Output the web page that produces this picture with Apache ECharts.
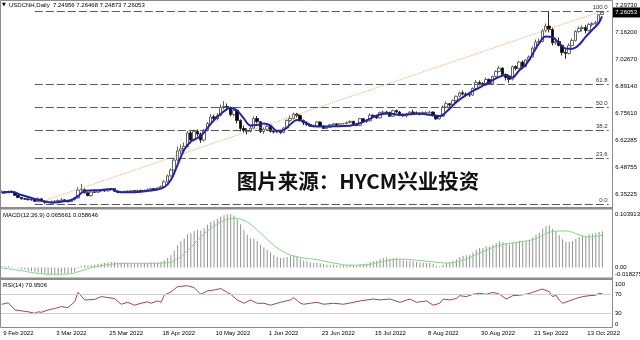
<!DOCTYPE html>
<html><head><meta charset="utf-8">
<script src="https://cdn.jsdelivr.net/npm/echarts@6/dist/echarts.min.js"></script>
<style>html,body{margin:0;padding:0;background:#fff}#c{width:640px;height:340px}</style>
</head><body><div id="c"></div>
<script>
// ---------- DATA ----------
const symbolTitle = 'USDCNH,Daily  7.24956 7.26468 7.24873 7.26053';
const macdTitle = 'MACD(12,26,9) 0.065661 0.058646';
const rsiTitle = 'RSI(14) 70.9506';
const watermark = '图片来源：HYCM兴业投资';
const firstDate = [2022, 1, 9];   // 9 Feb 2022, daily (weekday) bars
const barCount = 182;
const emptySlots = 2;             // blank space right of the last bar

const opens = [6.3620,6.3640,6.3590,6.3640,6.3610,6.3460,6.3350,6.3280,6.3270,6.3240,
6.3230,6.3160,6.3280,6.3170,6.3110,6.3150,6.3150,6.3170,6.3200,6.3230,
6.3190,6.3140,6.3240,6.3320,6.3720,6.3740,6.3580,6.3440,6.3620,6.3610,
6.3680,6.3690,6.3680,6.3740,6.3790,6.3660,6.3610,6.3600,6.3660,6.3640,
6.3690,6.3670,6.3700,6.3680,6.3700,6.3740,6.3790,6.3730,6.3830,6.3890,
6.4130,6.4430,6.4720,6.5220,6.5680,6.5780,6.5900,6.6580,6.6220,6.6650,
6.6520,6.6220,6.6700,6.7050,6.7380,6.7290,6.7450,6.7860,6.7900,6.7850,
6.7500,6.7700,6.7200,6.6800,6.6700,6.6650,6.6810,6.7300,6.7140,6.6650,
6.6760,6.6900,6.6650,6.6620,6.6650,6.6600,6.6820,6.7200,6.7300,6.7520,
6.7450,6.7190,6.7070,6.7000,6.6920,6.6920,6.7120,6.6920,6.6800,6.6860,
6.6990,6.7030,6.6960,6.7040,6.7040,6.7100,6.7160,6.7020,6.6950,6.7290,
6.7130,6.7180,6.7460,6.7410,6.7330,6.7590,6.7620,6.7600,6.7410,6.7690,
6.7620,6.7460,6.7430,6.7510,6.7620,6.7580,6.7560,6.7510,6.7590,6.7600,
6.7620,6.7450,6.7280,6.7410,6.7870,6.8040,6.7970,6.8200,6.8410,6.8580,
6.8520,6.8490,6.8470,6.8800,6.9100,6.9050,6.8970,6.9250,6.9050,6.9400,
6.9650,6.9820,6.9500,6.9350,6.9260,6.9890,6.9810,7.0120,6.9890,7.0220,
7.0370,7.0810,7.1120,7.1150,7.1690,7.1920,7.1750,7.1080,7.1150,7.0950,
7.0600,7.0550,7.0950,7.1200,7.1650,7.1800,7.1850,7.1700,7.2000,7.2040,
7.2100,7.24956];
const highs = [6.3700,6.3680,6.3690,6.3700,6.3650,6.3500,6.3380,6.3330,6.3300,6.3320,
6.3260,6.3350,6.3300,6.3220,6.3190,6.3200,6.3220,6.3250,6.3320,6.3260,
6.3230,6.3290,6.3380,6.3860,6.4030,6.3800,6.3620,6.3660,6.3700,6.3720,
6.3740,6.3750,6.3790,6.3830,6.3810,6.3700,6.3680,6.3700,6.3690,6.3730,
6.3730,6.3750,6.3740,6.3760,6.3800,6.3830,6.3820,6.3860,6.3950,6.4220,
6.4500,6.4800,6.5300,6.5900,6.6000,6.6100,6.6680,6.6730,6.6750,6.6750,
6.6600,6.6780,6.7120,6.7530,6.7490,6.7560,6.8000,6.8170,6.8050,6.7900,
6.7850,6.7780,6.7260,6.6950,6.6800,6.6920,6.7400,6.7420,6.7180,6.6850,
6.6990,6.6950,6.6720,6.6720,6.6700,6.6880,6.7250,6.7450,6.7600,6.7580,
6.7500,6.7250,6.7150,6.7050,6.7000,6.7180,6.7150,6.6970,6.6900,6.7020,
6.7080,6.7060,6.7070,6.7080,6.7150,6.7200,6.7180,6.7050,6.7330,6.7320,
6.7250,6.7560,6.7500,6.7450,6.7650,6.7700,6.7680,6.7640,6.7740,6.7750,
6.7680,6.7550,6.7580,6.7660,6.7740,6.7650,6.7600,6.7650,6.7660,6.7680,
6.7650,6.7480,6.7460,6.7950,6.8150,6.8080,6.8250,6.8450,6.8650,6.8700,
6.8600,6.8560,6.8850,6.9220,6.9200,6.9120,6.9350,6.9300,6.9450,6.9700,
6.9930,6.9850,6.9550,6.9400,6.9950,6.9960,7.0180,7.0200,7.0280,7.0450,
7.0900,7.1250,7.1300,7.1770,7.2050,7.2673,7.1850,7.1320,7.1350,7.1000,
7.0750,7.1050,7.1300,7.1720,7.1900,7.1950,7.1980,7.2080,7.2120,7.2180,
7.2530,7.26468];
const lows = [6.3570,6.3540,6.3560,6.3580,6.3440,6.3310,6.3240,6.3230,6.3200,6.3190,
6.3130,6.3120,6.3140,6.3030,6.3080,6.3100,6.3110,6.3130,6.3150,6.3130,
6.3100,6.3120,6.3200,6.3300,6.3650,6.3560,6.3420,6.3400,6.3570,6.3580,
6.3630,6.3640,6.3650,6.3700,6.3620,6.3560,6.3560,6.3580,6.3600,6.3610,
6.3630,6.3640,6.3650,6.3650,6.3670,6.3700,6.3690,6.3710,6.3800,6.3860,
6.4090,6.4380,6.4680,6.5150,6.5500,6.5650,6.5850,6.6050,6.6150,6.6400,
6.6080,6.6150,6.6650,6.7000,6.7150,6.7200,6.7400,6.7750,6.7680,6.7400,
6.7400,6.7050,6.6650,6.6580,6.6500,6.6600,6.6780,6.7050,6.6570,6.6530,
6.6680,6.6600,6.6550,6.6560,6.6520,6.6560,6.6780,6.7120,6.7250,6.7350,
6.7150,6.6960,6.6930,6.6880,6.6850,6.6880,6.6880,6.6780,6.6760,6.6820,
6.6950,6.6920,6.6920,6.7000,6.7000,6.7050,6.6990,6.6920,6.6930,6.7090,
6.7080,6.7150,6.7350,6.7280,6.7300,6.7550,6.7520,6.7380,6.7380,6.7580,
6.7420,6.7400,6.7350,6.7460,6.7550,6.7500,6.7450,6.7480,6.7530,6.7550,
6.7400,6.7230,6.7240,6.7380,6.7830,6.7880,6.7920,6.8150,6.8360,6.8450,
6.8400,6.8380,6.8420,6.8750,6.8950,6.8900,6.8930,6.9000,6.9000,6.9350,
6.9600,6.9450,6.9200,6.9080,6.9200,6.9700,6.9770,6.9800,6.9850,7.0150,
7.0330,7.0750,7.0980,7.1100,7.1600,7.1600,7.0950,7.0980,7.0900,7.0450,
7.0280,7.0500,7.0900,7.1150,7.1580,7.1650,7.1550,7.1650,7.1900,7.1980,
7.2050,7.24873];
const closes = [6.3640,6.3590,6.3640,6.3610,6.3460,6.3350,6.3280,6.3270,6.3240,6.3230,
6.3160,6.3280,6.3170,6.3110,6.3150,6.3150,6.3170,6.3200,6.3230,6.3190,
6.3140,6.3240,6.3320,6.3720,6.3740,6.3580,6.3440,6.3620,6.3610,6.3680,
6.3690,6.3680,6.3740,6.3790,6.3660,6.3610,6.3600,6.3660,6.3640,6.3690,
6.3670,6.3700,6.3680,6.3700,6.3740,6.3790,6.3730,6.3830,6.3890,6.4130,
6.4430,6.4720,6.5220,6.5680,6.5780,6.5900,6.6580,6.6220,6.6650,6.6520,
6.6220,6.6700,6.7050,6.7380,6.7290,6.7450,6.7860,6.7900,6.7850,6.7500,
6.7700,6.7200,6.6800,6.6700,6.6650,6.6810,6.7300,6.7140,6.6650,6.6760,
6.6900,6.6650,6.6620,6.6650,6.6600,6.6820,6.7200,6.7300,6.7520,6.7450,
6.7190,6.7070,6.7000,6.6920,6.6920,6.7120,6.6920,6.6800,6.6860,6.6990,
6.7030,6.6960,6.7040,6.7040,6.7100,6.7160,6.7020,6.6950,6.7290,6.7130,
6.7180,6.7460,6.7410,6.7330,6.7590,6.7620,6.7600,6.7410,6.7690,6.7620,
6.7460,6.7430,6.7510,6.7620,6.7580,6.7560,6.7510,6.7590,6.7600,6.7620,
6.7450,6.7280,6.7410,6.7870,6.8040,6.7970,6.8200,6.8410,6.8580,6.8520,
6.8490,6.8470,6.8800,6.9100,6.9050,6.8970,6.9250,6.9050,6.9400,6.9650,
6.9820,6.9500,6.9350,6.9260,6.9890,6.9810,7.0120,6.9890,7.0220,7.0370,
7.0810,7.1120,7.1150,7.1690,7.1920,7.1750,7.1080,7.1150,7.0950,7.0600,
7.0550,7.0950,7.1200,7.1650,7.1800,7.1850,7.1700,7.2000,7.2040,7.2100,
7.2490,7.26053];

// moving average [bar index, price]
const maPoints = [[0,6.359],[3,6.364],[6,6.347],[9,6.332],[12,6.319],[15,6.309],[18,6.314],[21,6.322],
[23,6.342],[25,6.367],[30,6.372],[33,6.377],[35,6.364],[38,6.361],[42,6.364],[46,6.372],[49,6.386],
[51,6.422],[53,6.497],[55,6.572],[57,6.614],[60,6.642],[63,6.702],[66,6.752],[69,6.782],[71,6.770],
[73,6.730],[75,6.695],[77,6.697],[79,6.705],[81,6.695],[83,6.668],[85,6.672],[87,6.700],[89,6.722],
[91,6.716],[93,6.695],[96,6.690],[100,6.691],[105,6.694],[108,6.706],[111,6.728],[114,6.750],
[117,6.755],[120,6.748],[123,6.751],[126,6.755],[129,6.748],[132,6.742],[134,6.762],[136,6.795],
[138,6.824],[141,6.857],[144,6.884],[147,6.912],[150,6.938],[152,6.947],[154,6.935],[156,6.970],
[158,6.998],[160,7.050],[162,7.105],[164,7.140],[166,7.137],[168,7.108],[170,7.080],[172,7.078],
[174,7.097],[176,7.137],[178,7.172],[180,7.207],[181,7.240]];

// Fibonacci retracement
const fibLabels = ['0.0','23.6','38.2','50.0','61.8','100.0'];
const fibPrices = [6.3023,6.5300,6.6709,6.7848,6.8987,7.2673];
const fibFromBar = 10, fibToBar = 183;
const fibTrend = [[10,6.3023],[181,7.2673]];

const priceTicks = [7.29730,7.16200,7.02670,6.89140,6.75610,6.62285,6.48755,6.35225];
const lastPrice = 7.26053;

// MACD
const macdHist = [0.002,0.002,0.002,0.001,0.000,-0.001,-0.003,-0.004,-0.006,-0.007,
-0.008,-0.009,-0.010,-0.011,-0.012,-0.012,-0.012,-0.012,-0.011,-0.011,
-0.011,-0.010,-0.008,-0.002,0.002,0.004,0.003,0.004,0.005,0.006,
0.007,0.008,0.009,0.010,0.010,0.009,0.009,0.009,0.008,0.008,
0.008,0.008,0.008,0.008,0.008,0.009,0.008,0.009,0.010,0.013,
0.017,0.022,0.030,0.040,0.047,0.053,0.060,0.062,0.066,0.068,
0.067,0.071,0.077,0.082,0.085,0.088,0.092,0.095,0.096,0.096,
0.094,0.087,0.078,0.068,0.059,0.053,0.052,0.048,0.041,0.036,
0.032,0.027,0.022,0.019,0.017,0.017,0.019,0.021,0.022,0.020,
0.016,0.013,0.011,0.009,0.008,0.008,0.007,0.006,0.005,0.005,
0.005,0.004,0.004,0.004,0.004,0.005,0.004,0.003,0.006,0.006,
0.007,0.010,0.011,0.012,0.015,0.017,0.018,0.016,0.017,0.017,
0.015,0.013,0.012,0.012,0.011,0.010,0.009,0.009,0.008,0.008,
0.006,0.003,0.002,0.005,0.008,0.009,0.012,0.015,0.019,0.021,
0.022,0.023,0.027,0.032,0.035,0.035,0.038,0.038,0.041,0.044,
0.047,0.046,0.044,0.042,0.045,0.046,0.048,0.047,0.048,0.050,
0.054,0.059,0.063,0.070,0.075,0.076,0.070,0.065,0.058,0.051,
0.046,0.046,0.048,0.052,0.055,0.057,0.057,0.060,0.061,0.062,
0.064,0.065661];
const macdSignal = [[0,-0.001],[5,-0.005],[10,-0.010],[15,-0.0125],[20,-0.012],[24,-0.006],[28,0.001],
[32,0.005],[36,0.007],[40,0.0075],[45,0.0075],[49,0.008],[52,0.012],[56,0.030],[60,0.055],[64,0.075],
[67,0.085],[70,0.089],[74,0.082],[78,0.062],[82,0.040],[86,0.025],[90,0.018],[95,0.014],[100,0.008],
[105,0.004],[110,0.005],[115,0.011],[120,0.015],[125,0.013],[130,0.010],[134,0.008],[138,0.011],
[144,0.026],[150,0.040],[156,0.046],[161,0.052],[166,0.065],[170,0.066],[174,0.059],[177,0.055],
[181,0.058646]];
const macdTicks = [-0.018275, 0, 0.103913];
const macdTickText = ['-0.018275', '0.00', '0.103913'];

// RSI
const rsiPoints = [[0,48.8],[2,52],[4,37],[6,35],[8,33],[10,30],[11,33],[12,32],[14,37],[16,40],[18,44],
[20,42],[22,54],[23,74],[25,58],[28,59],[30,65],[32,63],[34,61],[36,49],[38,53],[40,47],[42,51],[44,54],
[45,51],[47,56],[48,53],[49,68],[51,75],[53,86],[56,88],[58,84],[60,70],[62,77],[64,79],[66,82],[68,74],
[69,70],[71,58],[73,51],[75,58],[77,51],[79,51],[81,47],[84,53],[87,58],[88,63],[90,51],[91,49],[93,51],
[95,53],[97,49],[100,51],[103,49],[106,53],[108,56],[110,58],[112,60],[114,58],[117,60],[120,53],[123,60],
[125,53],[128,56],[130,47],[132,51],[133,60],[135,58],[137,61],[138,67],[140,65],[142,70],[144,72],[146,70],
[148,74],[150,70],[152,60],[154,67],[156,68],[158,70],[160,74],[162,79],[163,81],[165,75],[166,65],[167,68],
[168,58],[169,51],[171,56],[173,61],[175,65],[177,67],[179,68],[180,72],[181,70.9506]];
const rsiTicks = [0, 30, 70, 100];
const rsiTickText = ['0', '30', '70', '100'];
const rsiLevels = [70, 30];

// ---------- BUILD ----------
const MONTHS = ['Jan','Feb','Mar','Apr','May','Jun','Jul','Aug','Sep','Oct','Nov','Dec'];
const cats = [];
(function(){
  const d = new Date(Date.UTC(firstDate[0], firstDate[1], firstDate[2]));
  while (cats.length < barCount + emptySlots) {
    const w = d.getUTCDay();
    if (w !== 0 && w !== 6) cats.push(d.getUTCDate() + ' ' + MONTHS[d.getUTCMonth()] + ' ' + d.getUTCFullYear());
    d.setUTCDate(d.getUTCDate() + 1);
  }
})();
const candles = closes.map((c, i) => [opens[i], c, lows[i], highs[i]]);

const F = '"Liberation Sans", Arial, sans-serif';
const GL = -2.67, GR = 29.3;
const grids = [
  {left: GL, right: GR, top: 1, height: 206},
  {left: GL, right: GR, top: 210, height: 67.5},
  {left: GL, right: GR, top: 280, height: 47.5}
];
function xAx(g, showLabel) {
  return {type:'category', gridIndex:g, data:cats, boundaryGap:true,
    axisLine:{show:false}, axisTick:{show:false}, splitLine:{show:false},
    axisLabel: showLabel ? {show:true, interval:15, fontSize:6, fontFamily:F, color:'#000',
      align:'left', margin:2.5, padding:[0,0,0,1.5]} : {show:false}};
}
function yAx(g, min, max, ticks, fmt, lab) {
  return {type:'value', gridIndex:g, position:'right', min:min, max:max,
    splitLine:{show:false}, axisLine:{show:false}, axisTick:{show:false},
    axisLabel:Object.assign({customValues:ticks, formatter:fmt, fontSize:6, fontFamily:F,
      color:'#000', margin:5, align:'left'}, lab||{})};
}

const series = [];
series.push({type:'candlestick', xAxisIndex:0, yAxisIndex:0, data:candles, barWidth:3,
  itemStyle:{color:'#ffffff', color0:'#000000', borderColor:'#666666', borderColor0:'#2a2a2a', borderWidth:1},
  markLine:{silent:true, symbol:'none', animation:false,
    data:[{yAxis:lastPrice}],
    lineStyle:{color:'rgba(0,0,0,0)', width:1},
    label:{show:true, position:'end', formatter:lastPrice.toFixed(5), backgroundColor:'#000', color:'#fff',
      fontSize:6, fontFamily:F, padding:[3,3,1,3], distance:2}}
});
series.push({type:'line', xAxisIndex:0, yAxisIndex:0, data:[], silent:true,
  markLine:{silent:true, symbol:'none', animation:false,
    lineStyle:{color:'#5a5a5a', type:[8,3], width:1},
    label:{show:true, position:'insideEndTop', fontSize:6, fontFamily:F, color:'#333', distance:[1,1]},
    data: fibPrices.map((p, k) => [{coord:[fibFromBar, p], label:{formatter:fibLabels[k]}}, {coord:[fibToBar, p]}])}
});
series.push({type:'line', xAxisIndex:0, yAxisIndex:0, data:fibTrend, symbol:'none', silent:true,
  lineStyle:{color:'#f2a66a', type:'dotted', width:1}});
series.push({type:'line', xAxisIndex:0, yAxisIndex:0, data:maPoints, symbol:'none', smooth:0.35, silent:true,
  lineStyle:{color:'#2222b0', width:2}, z:5});
series.push({type:'bar', xAxisIndex:1, yAxisIndex:1, data:macdHist, barWidth:1, silent:true,
  itemStyle:{color:'#929292'}});
series.push({type:'line', xAxisIndex:1, yAxisIndex:1, data:macdSignal, symbol:'none', smooth:0.4, silent:true,
  lineStyle:{color:'#7fd87f', width:1}});
series.push({type:'line', xAxisIndex:2, yAxisIndex:2, data:rsiPoints, symbol:'none', silent:true,
  lineStyle:{color:'#a04848', width:1},
  markLine:{silent:true, symbol:'none', animation:false, label:{show:false},
    lineStyle:{color:'#cfcfcf', type:'solid', width:1},
    data: rsiLevels.map(v => ({yAxis:v}))}
});

const baseGraphic = [
  {type:'rect', silent:true, z:50, shape:{x:0.5, y:0.5, width:612, height:327}, style:{fill:'none', stroke:'#8c8c8c', lineWidth:1}},
  {type:'rect', silent:true, z:50, shape:{x:0, y:207, width:613, height:2.5}, style:{fill:'#8c8c8c'}},
  {type:'rect', silent:true, z:50, shape:{x:0, y:277.5, width:613, height:2.5}, style:{fill:'#8c8c8c'}},
  {type:'text', silent:true, z:60, left:2, top:2.5, style:{text:'▼', font:'5px "DejaVu Sans"', fill:'#000'}},
  {type:'text', silent:true, z:60, left:9, top:2, style:{text:symbolTitle, font:'6px ' + F, fill:'#000'}},
  {type:'text', silent:true, z:60, left:3, top:212, style:{text:macdTitle, font:'6px ' + F, fill:'#000'}},
  {type:'text', silent:true, z:60, left:3, top:282, style:{text:rsiTitle, font:'6px ' + F, fill:'#000'}},
  {type:'text', silent:true, z:60, x:358, y:181, style:{text:watermark, font:'bold 20.5px "Noto Sans CJK SC"', fill:'#111', align:'center', verticalAlign:'middle'}}
];

const option = {
  animation:false,
  backgroundColor:'#fff',
  grid: grids,
  xAxis: [xAx(0,false), xAx(1,false), xAx(2,true)],
  yAxis: [
    yAx(0, 6.2873, 7.3173, priceTicks, v => v.toFixed(5), {padding:[4,0,0,0]}),
    yAx(1, -0.018275, 0.103913, macdTicks, v => '', {show:false}),
    yAx(2, 0, 100, rsiTicks, v => '', {show:false})
  ],
  series: series,
  graphic: baseGraphic
};
const chart = echarts.init(document.getElementById('c'), null, {renderer:'canvas', width:640, height:340});
chart.setOption(option);

// sub-window scale labels: top one hangs below the top edge, bottom one sits above the bottom edge
function subLabels(axisIdx, ticks, texts) {
  const out = [];
  const maxV = Math.max.apply(null, ticks), minV = Math.min.apply(null, ticks);
  ticks.forEach((v, k) => {
    const y = chart.convertToPixel({yAxisIndex: axisIdx}, v);
    const va = v === maxV ? 'top' : (v === minV ? 'bottom' : 'middle');
    out.push({type:'text', silent:true, z:60, x:615, y: y + (va === 'top' ? 1 : (va === 'bottom' ? -0.5 : 0)),
      style:{text:texts[k], font:'6px ' + F, fill:'#000', align:'left', verticalAlign:va}});
  });
  return out;
}
chart.setOption({graphic: baseGraphic.concat(subLabels(1, macdTicks, macdTickText), subLabels(2, rsiTicks, rsiTickText))});
</script>
</body></html>
